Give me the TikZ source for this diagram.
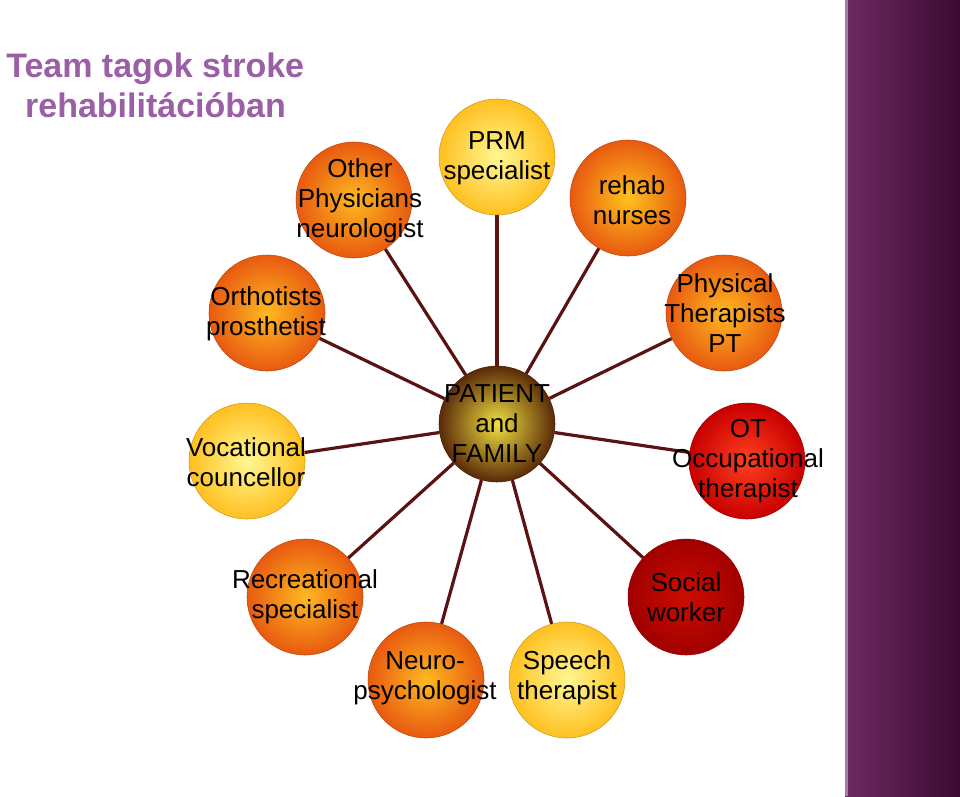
\documentclass[tikz,border=0pt]{standalone}
\usepackage{fontspec}
\setmainfont{Liberation Sans}
\definecolor{spoke}{HTML}{5A1212}
\definecolor{ttl}{HTML}{9A5FA6}
\definecolor{yel}{HTML}{FFF24A}
\definecolor{yelo}{HTML}{FFC020}
\definecolor{ora}{HTML}{FF9A30}
\definecolor{orad}{HTML}{E85A10}
\definecolor{redl}{HTML}{FF4020}
\definecolor{redd}{HTML}{C80000}
\definecolor{bandl}{HTML}{6E2A62}
\definecolor{bandd}{HTML}{3A0A32}
\definecolor{cin}{HTML}{F0E040}
\definecolor{cout}{HTML}{5A2A08}
\tikzset{
  ball/.style={circle, minimum size=87pt, inner sep=0pt, draw=#1!80!black, line width=0.4pt},
  yball/.style={ball=yelo, inner color=yel!60!white, outer color=yelo},
  oball/.style={ball=orad, inner color=ora!70!yellow, outer color=orad},
  rball/.style={ball=redd, inner color=redl, outer color=redd},
  cball/.style={ball=cout, inner color=cin, outer color=cout},
  lab/.style={font=\fontsize{19.5}{22.5}\selectfont, align=center, text=black},
  spk/.style={draw=spoke, line width=2.4pt}
}
\begin{document}
\begin{tikzpicture}[x=0.75pt,y=-0.75pt]
\useasboundingbox (0,0) rectangle (960,796);
\fill[white] (0,0) rectangle (960,796);
\shade[left color=bandl, right color=bandd] (845,0) rectangle (960,796);
\fill[bandl!60!white] (845,0) rectangle (848,796);
\node[anchor=west, text=ttl, font=\bfseries\fontsize{25.5}{30}\selectfont, align=left, inner sep=0pt] (title) at (6,85) {Team tagok stroke\\\ \ rehabilitációban};
% balls
\node[cball] (c) at (497,424) {};
\node[yball] (prm) at (497,157) {};
\node[oball] (oth) at (354,200) {};
\node[oball, inner color=ora!60!yellow] (nur) at (628,198) {};
\node[oball] (ort) at (267,313) {};
\node[oball] (pt) at (724,313) {};
\node[yball] (voc) at (247,461) {};
\node[rball] (ot) at (747,461) {};
\node[oball] (rec) at (305,597) {};
\node[rball, inner color=redd!90!orange, outer color=redd!80!black] (soc) at (686,597) {};
\node[oball] (neu) at (426,680) {};
\node[yball] (spe) at (567,680) {};
% spokes
\foreach \n in {prm,oth,nur,ort,pt,voc,ot,rec,soc,neu,spe}
  \draw[spk] (c) -- (\n);
% labels
\node[lab] (lc) at (497,424) {PATIENT\\and\\FAMILY};
\node[lab] (lprm) at (497,158) {PRM\\specialist};
\node[lab] (loth) at (360,201) {Other\\Physicians\\neurologist};
\node[lab] (lnur) at (632,200) {rehab\\nurses};
\node[lab] (lort) at (266,314) {Orthotists\\prosthetist};
\node[lab] (lpt) at (725,313) {Physical\\Therapists\\PT};
\node[lab] (lvoc) at (246,462) {Vocational\\councellor};
\node[lab] (lot) at (748,461) {OT\\Occupational\\therapist};
\node[lab] (lrec) at (305,597) {Recreational\\specialist};
\node[lab] (lsoc) at (686,597) {Social\\worker};
\node[lab] (lneu) at (425,678) {Neuro-\\psychologist};
\node[lab] (lspe) at (567,678) {Speech\\therapist};
\end{tikzpicture}
\end{document}
